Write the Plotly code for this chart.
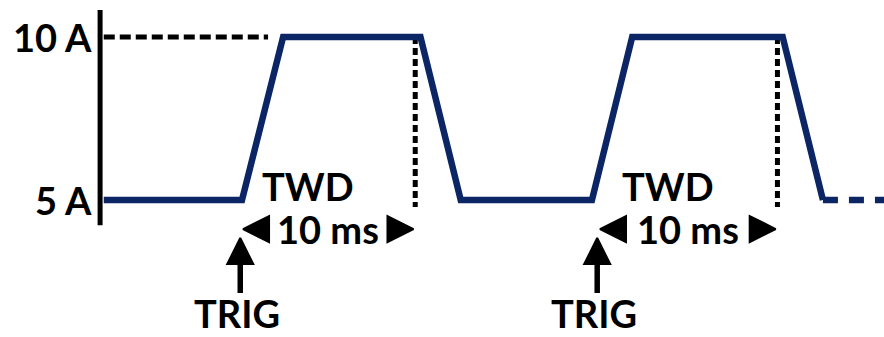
import plotly.graph_objects as go

# Load current waveform (time in ms, current in A)
wave_t = [-7.9, 0.0, 2.35, 10.2, 12.5, 20.0, 22.3, 30.9, 33.2]
wave_i = [5, 5, 10, 10, 5, 5, 10, 10, 5]
tail_t = [33.2, 36.7]          # continuation of the waveform
tail_i = [5, 5]

levels = [5, 10]
level_labels = ["5 A", "10 A"]

trig_t = [-0.1, 20.3]          # trigger instants
twd_end_t = [9.9, 30.6]        # end of the 10 ms trigger window delay
twd_label = "TWD"
window_label = "10 ms"
trig_label = "TRIG"

NAVY = "#0b2565"
FONT = dict(family="Lato, 'Open Sans', sans-serif", size=38, color="black", weight="bold")

X_RANGE = [-13.83, 36.69]
Y_RANGE = [0.80, 11.135]
axis_t = -8.11

fig = go.Figure()

# Current axis (vertical bar)
fig.add_trace(go.Scatter(x=[axis_t, axis_t], y=[4.23, 10.83], mode="lines",
                         line=dict(color="black", width=5), hoverinfo="skip"))

# Dashed reference at the high level
fig.add_trace(go.Scatter(x=[wave_t[0], 1.49], y=[levels[1], levels[1]], mode="lines",
                         line=dict(color="black", width=5, dash="11px,5px"), hoverinfo="skip"))

# Dotted markers at the end of each window
for te in twd_end_t:
    fig.add_trace(go.Scatter(x=[te, te], y=[levels[1], 4.79], mode="lines",
                             line=dict(color="black", width=5, dash="7px,4px"), hoverinfo="skip"))

# Waveform
fig.add_trace(go.Scatter(x=wave_t, y=wave_i, mode="lines",
                         line=dict(color=NAVY, width=6.5), hoverinfo="skip"))
fig.add_trace(go.Scatter(x=tail_t, y=tail_i, mode="lines",
                         line=dict(color=NAVY, width=6.5, dash="15px,11px"), hoverinfo="skip"))

# Window arrows and labels (arrow symbols put the tip on the point)
y_win = 4.11
for ts, te in zip(trig_t, twd_end_t):
    left_tip = ts + 0.16
    right_tip = te - 0.1
    fig.add_trace(go.Scatter(x=[left_tip], y=[y_win], mode="markers",
                             marker=dict(symbol="arrow-left", size=26, color="black",
                                         line=dict(color="black", width=2)),
                             hoverinfo="skip"))
    fig.add_trace(go.Scatter(x=[right_tip], y=[y_win], mode="markers",
                             marker=dict(symbol="arrow-right", size=26, color="black",
                                         line=dict(color="black", width=2)),
                             hoverinfo="skip"))
    mid = (left_tip + right_tip) / 2
    fig.add_annotation(x=mid, y=y_win, text=window_label, showarrow=False,
                       xanchor="center", yanchor="middle", font=FONT)
    fig.add_annotation(x=mid - 1.15, y=5.43, text=twd_label, showarrow=False,
                       xanchor="center", yanchor="middle", font=FONT)

# Trigger arrows
for ts in trig_t:
    fig.add_trace(go.Scatter(x=[ts, ts], y=[2.15, 3.3], mode="lines",
                             line=dict(color="black", width=5.5), hoverinfo="skip"))
    fig.add_trace(go.Scatter(x=[ts], y=[3.834], mode="markers",
                             marker=dict(symbol="arrow-up", size=26, color="black",
                                         line=dict(color="black", width=2)),
                             hoverinfo="skip"))
    fig.add_annotation(x=ts - 0.2, y=1.55, text=trig_label, showarrow=False,
                       xanchor="center", yanchor="middle", font=FONT)

# Level labels
for lv, lab in zip(levels, level_labels):
    fig.add_annotation(x=-8.45, y=lv, text=lab, showarrow=False,
                       xanchor="right", yanchor="middle", font=FONT)

fig.update_layout(
    width=884, height=337,
    margin=dict(l=0, r=0, t=0, b=0),
    paper_bgcolor="white", plot_bgcolor="white",
    showlegend=False,
    xaxis=dict(range=X_RANGE, visible=False, fixedrange=True),
    yaxis=dict(range=Y_RANGE, visible=False, fixedrange=True),
)

fig.write_html("out.html")
